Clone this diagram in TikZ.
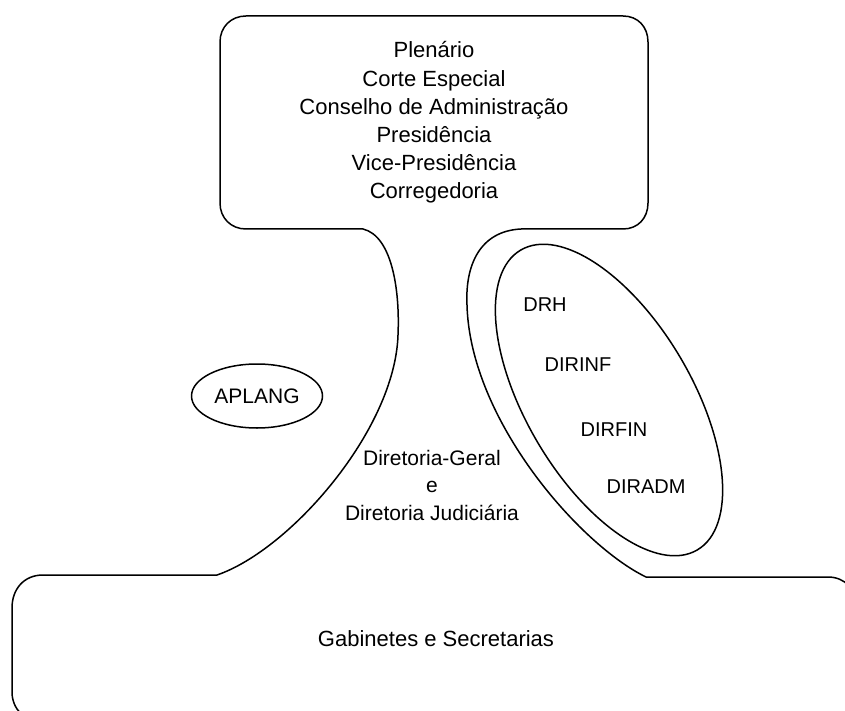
\documentclass[tikz,border=0pt]{standalone}
\usepackage{fontspec}
\setmainfont{Liberation Sans}
\usetikzlibrary{shapes.geometric}
\begin{document}
\begin{tikzpicture}[x=1pt,y=-1pt,line width=1.5pt,line join=round,
  txt/.style={font=\fontsize{22}{28.2}\selectfont, inner sep=0pt, align=center},
  dir/.style={font=\fontsize{20}{24}\selectfont, inner sep=0pt},
  oval/.style={draw, ellipse, line width=1.5pt, inner sep=0pt}]
\useasboundingbox (0,0) rectangle (845,711);
% outline of the whole organisation
\draw (363,229) -- (246,229) .. controls (231,229) and (220,218) .. (220,203)
  -- (220,42) .. controls (220,27) and (231,16) .. (246,16)
  -- (623,16) .. controls (638,16) and (648,27) .. (648,42)
  -- (648,203) .. controls (648,218) and (638,229) .. (623,229)
  -- (521,229) .. controls (480,231) and (465,265) .. (467,305)
  .. controls (470,420) and (580,545) .. (646,577)
  -- (828,577) .. controls (845,577) and (857,590) .. (857,607)
  -- (857,692) .. controls (857,709) and (845,722) .. (828,722)
  -- (42,722) .. controls (25,722) and (12,709) .. (12,692)
  -- (12,608) .. controls (12,589) and (24,575) .. (43,575)
  -- (217,575) .. controls (290,550) and (395,430) .. (398,335)
  .. controls (400,290) and (392,236) .. (363,229) -- cycle;
% inner tilted ellipse
\coordinate (dirc) at (609,400);
\draw[rotate around={-59.5:(dirc)}] (dirc) ellipse [x radius=174, y radius=83];
% texts
\node[txt] (top) at (434,122.5) {Plenário\\Corte Especial\\Conselho de Administração\\Presidência\\Vice-Presidência\\Corregedoria};
\node[oval, minimum width=131pt, minimum height=64pt, font=\fontsize{21}{24}\selectfont] (aplang) at (257,396) {APLANG};
\node[txt, font=\fontsize{21}{27.5}\selectfont] (dg) at (432,485) {Diretoria-Geral\\e\\Diretoria Judiciária};
\node[dir] (drh) at (545,305) {DRH};
\node[dir] (dirinf) at (578,365) {DIRINF};
\node[dir] (dirfin) at (614,430) {DIRFIN};
\node[dir] (diradm) at (646,487) {DIRADM};
\node[txt] (gab) at (436,639) {Gabinetes e Secretarias};
\end{tikzpicture}
\end{document}
